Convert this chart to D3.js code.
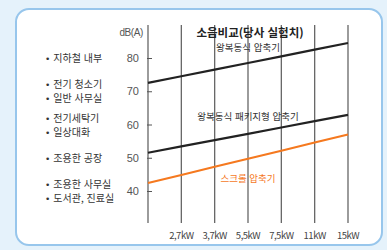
<!DOCTYPE html>
<html lang="ko">
<head>
<meta charset="utf-8">
<title>소음비교</title>
<script src="https://d3js.org/d3.v7.min.js"></script>
<style>
  body { margin: 0; background: #e5f2fb; }
  svg { display: block; font-family: "Noto Sans CJK KR", "Noto Sans", sans-serif; }
</style>
</head>
<body>
<script>
// x categories (first slot has no label)
var kw = ["", "2,7kW", "3,7kW", "5,5kW", "7,5kW", "11kW", "15kW"];
var yTicks = [40, 50, 60, 70, 80];

// series values (dB(A))
var reciprocating = [72.5, 74.5, 76.5, 78.5, 80.5, 82.5, 84.5];
var packaged = [51.5, 53.4, 55.3, 57.2, 59.1, 61.0, 62.9];
var scroll = [42.4, 44.8, 47.3, 49.7, 52.1, 54.6, 57.0];

// left side reference sounds
var refLabels = [
  { dB: 80, lines: ["지하철 내부"] },
  { dB: 70, lines: ["전기 청소기", "일반 사무실"] },
  { dB: 60, lines: ["전기세탁기", "일상대화"] },
  { dB: 50, lines: ["조용한 공장"] },
  { dB: 40, lines: ["조용한 사무실", "도서관, 진료실"] }
];

var W = 387, H = 250;
var svg = d3.select("body").append("svg").attr("width", W).attr("height", H);

// white rounded panel
svg.append("rect")
  .attr("x", 16).attr("y", 9).attr("width", 366).attr("height", 236)
  .attr("rx", 13)
  .attr("fill", "#fff")
  .attr("stroke", "#97c6ec")
  .attr("stroke-width", 2);

var x = d3.scalePoint().domain(d3.range(kw.length)).range([148, 348]);
var y = d3.scaleLinear().domain([40, 80]).range([191, 58]);

// vertical grid lines
svg.append("g").selectAll("line")
  .data(d3.range(kw.length))
  .enter().append("line")
  .attr("x1", d => x(d)).attr("x2", d => x(d))
  .attr("y1", 25).attr("y2", 223)
  .attr("stroke", "#666").attr("stroke-width", 1.3);

// x labels
svg.append("g").selectAll("text")
  .data(kw)
  .enter().append("text")
  .attr("x", (d, i) => x(i)).attr("y", 239)
  .attr("text-anchor", "middle")
  .attr("font-size", 9.5)
  .attr("letter-spacing", -0.5)
  .attr("fill", "#444")
  .text(d => d);

// y axis
var yAxis = d3.axisLeft(y).tickValues(yTicks).tickSize(-5).tickPadding(9);
var ga = svg.append("g").attr("transform", "translate(148,0)").call(yAxis);
ga.select(".domain").remove();
ga.selectAll(".tick line").attr("stroke", "#555").attr("transform", "translate(-1,0)");
ga.selectAll(".tick text").attr("font-size", 11).attr("fill", "#555")
  .attr("font-family", "Liberation Sans, Arial, sans-serif");

svg.append("text")
  .attr("x", 143).attr("y", 36)
  .attr("text-anchor", "end")
  .attr("font-size", 10).attr("letter-spacing", -0.4)
  .attr("font-family", "Liberation Sans, Arial, sans-serif")
  .attr("fill", "#555")
  .text("dB(A)");

// left reference labels
refLabels.forEach(function(r) {
  var n = r.lines.length;
  r.lines.forEach(function(t, j) {
    var yy = y(r.dB) + (j - (n - 1) / 2) * 14 + 4;
    var g = svg.append("text")
      .attr("x", 45).attr("y", yy)
      .attr("font-size", 10).attr("fill", "#333");
    g.append("tspan").attr("font-family", "DejaVu Sans").attr("font-size", 9).text("•");
    g.append("tspan").attr("dx", 3).text(t);
  });
});

// lines
var line = d3.line().x((d, i) => x(i)).y(d => y(d));
[[reciprocating, "#222"], [packaged, "#222"], [scroll, "#f5791f"]].forEach(function(s) {
  svg.append("path")
    .datum(s[0])
    .attr("d", line)
    .attr("fill", "none")
    .attr("stroke", s[1])
    .attr("stroke-width", 2.2);
});

// title and series labels
svg.append("text")
  .attr("x", 250).attr("y", 37)
  .attr("text-anchor", "middle")
  .attr("font-size", 11.5).attr("font-weight", "bold").attr("fill", "#222")
  .text("소음비교(당사 실험치)");

var notes = [
  ["왕복동식 압축기", 51, "#333"],
  ["왕복동식 패키지형 압축기", 120, "#333"],
  ["스크롤 압축기", 182, "#f5791f"]
];
svg.append("g").selectAll("text")
  .data(notes)
  .enter().append("text")
  .attr("x", 248).attr("y", d => d[1])
  .attr("text-anchor", "middle")
  .attr("font-size", 9.5)
  .attr("fill", d => d[2])
  .text(d => d[0]);
</script>
</body>
</html>
